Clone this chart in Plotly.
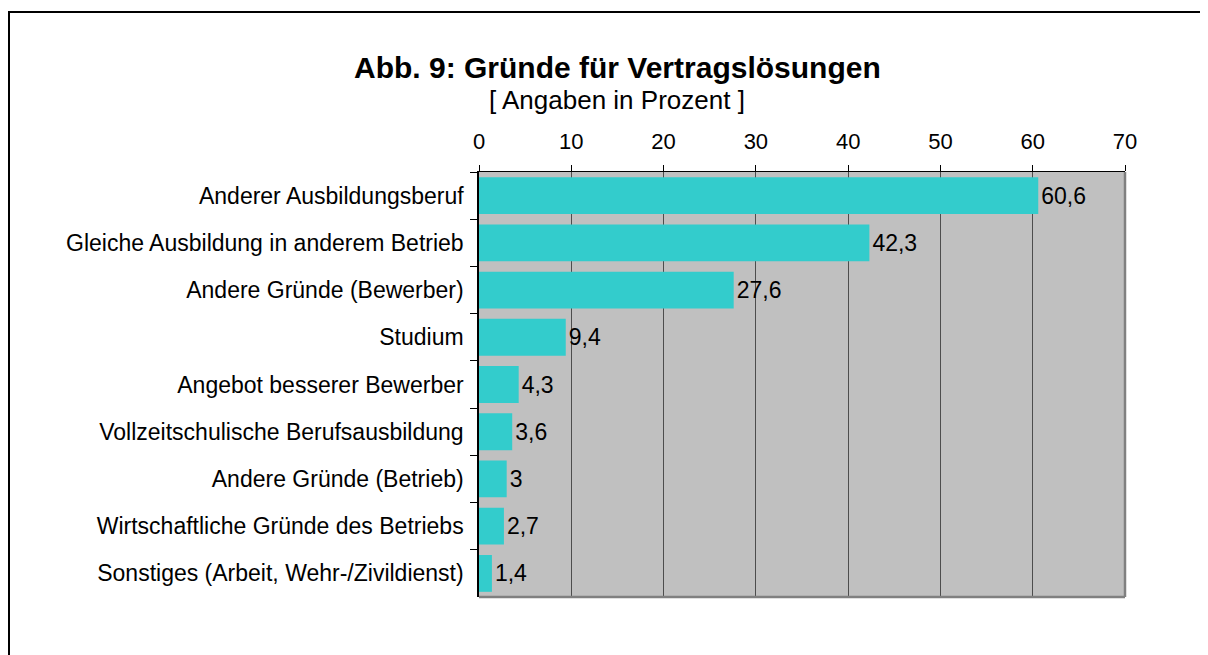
import plotly.graph_objects as go

categories = [
    "Anderer Ausbildungsberuf",
    "Gleiche Ausbildung in anderem Betrieb",
    "Andere Gründe (Bewerber)",
    "Studium",
    "Angebot besserer Bewerber",
    "Vollzeitschulische Berufsausbildung",
    "Andere Gründe (Betrieb)",
    "Wirtschaftliche Gründe des Betriebs",
    "Sonstiges (Arbeit, Wehr-/Zivildienst)",
]
values = [60.6, 42.3, 27.6, 9.4, 4.3, 3.6, 3, 2.7, 1.4]
x_ticks = [0, 10, 20, 30, 40, 50, 60, 70]

labels = [f"{v:g}".replace(".", ",") for v in values]
FONT = "Arial, Liberation Sans, sans-serif"

# page is offset by the 8px body margin; figure sized to fill the viewport
W, H = 1200, 647
ML, MR, MT, MB = 471, 83, 164, 58
pw = W - ML - MR
ph = H - MT - MB


def px_x(x):
    return (x - ML) / pw


def px_y(y):
    return 1 - (y - MT) / ph


fig = go.Figure()
fig.add_trace(go.Bar(
    x=values, y=categories, orientation="h",
    marker=dict(color="#33CCCC", line=dict(width=0)),
    text=labels, textposition="outside", cliponaxis=False,
    textfont=dict(family=FONT, size=23, color="black"),
    width=0.78,
))

fig.update_layout(
    width=W, height=H,
    margin=dict(l=ML, r=MR, t=MT, b=MB),
    paper_bgcolor="white", plot_bgcolor="#C0C0C0",
    showlegend=False,
    font=dict(family=FONT, size=23, color="black"),
    xaxis=dict(
        side="top", range=[0, 70], tickvals=x_ticks,
        ticks="outside", ticklen=6, tickcolor="black", tickwidth=1,
        showline=True, linecolor="black", linewidth=1,
        showgrid=True, gridcolor="#4d4d4d", gridwidth=1.3,
        zeroline=False, ticklabelstandoff=7,
        tickfont=dict(family=FONT, size=22, color="black"),
        fixedrange=True,
    ),
    yaxis=dict(
        autorange="reversed", tickson="boundaries",
        ticks="outside", ticklen=7, tickcolor="black", tickwidth=1,
        showline=True, linecolor="black", linewidth=1.5,
        showgrid=False, ticklabelstandoff=9,
        tickfont=dict(family=FONT, size=23, color="black"),
        fixedrange=True,
    ),
    annotations=[
        dict(text="<b>Abb. 9: Gründe für Vertragslösungen</b>",
             x=px_x(609), y=px_y(59), xanchor="center", yanchor="middle",
             xref="paper", yref="paper", showarrow=False,
             font=dict(family=FONT, size=30, color="black")),
        dict(text="[ Angaben in Prozent ]",
             x=px_x(609), y=px_y(92), xanchor="center", yanchor="middle",
             xref="paper", yref="paper", showarrow=False,
             font=dict(family=FONT, size=26, color="black")),
    ],
)

# plot frame: right and bottom grey edges
fig.add_shape(type="line", xref="paper", yref="paper", x0=1, x1=1, y0=0, y1=1,
              line=dict(color="#808080", width=2.5))
fig.add_shape(type="line", xref="paper", yref="paper", x0=0, x1=1, y0=0, y1=0,
              line=dict(color="#808080", width=2.5))
# outer border of the chart (left and top edges visible)
fig.add_shape(type="rect", xref="paper", yref="paper",
              x0=px_x(1), x1=px_x(1300), y0=px_y(800), y1=px_y(4),
              line=dict(color="black", width=2), layer="above")

fig.write_html("out.html")
